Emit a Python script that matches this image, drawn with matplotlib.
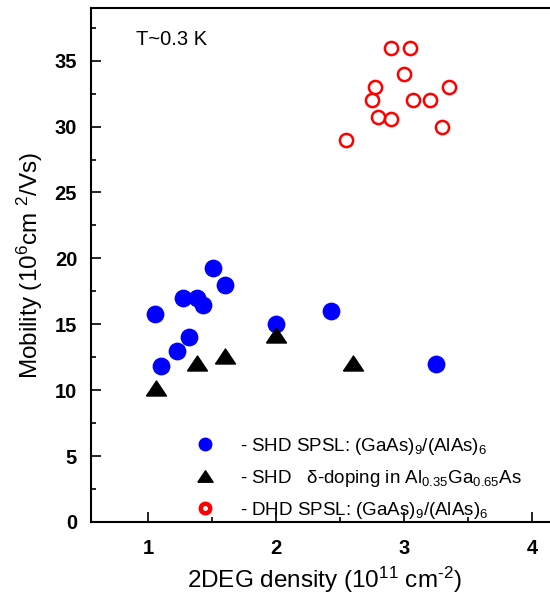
import numpy as np
import matplotlib
matplotlib.use('Agg')
import matplotlib.pyplot as plt
from matplotlib.lines import Line2D

plt.rcParams['font.family'] = ['Liberation Sans', 'DejaVu Sans']
plt.rcParams['mathtext.fontset'] = 'custom'
plt.rcParams['mathtext.rm'] = 'Liberation Sans'
plt.rcParams['mathtext.it'] = 'Liberation Sans:italic'
plt.rcParams['mathtext.bf'] = 'Liberation Sans:bold'

# SHD SPSL (GaAs)9/(AlAs)6
shd_x = [1.055, 1.10, 1.23, 1.27, 1.32, 1.38, 1.43, 1.51, 1.60, 2.0, 2.43, 3.25]
shd_y = [15.8, 11.8, 13.0, 17.0, 14.0, 17.0, 16.5, 19.3, 18.0, 15.0, 16.0, 12.0]

# SHD delta-doping in AlGaAs
delta_x = [1.06, 1.38, 1.60, 2.0, 2.60]
delta_y = [10.2, 12.1, 12.6, 14.2, 12.1]

# DHD SPSL (GaAs)9/(AlAs)6
dhd_x = [2.90, 3.05, 3.00, 2.77, 3.35, 2.75, 3.07, 3.20, 2.80, 2.90, 3.30, 2.55]
dhd_y = [36.0, 36.0, 34.0, 33.0, 33.0, 32.0, 32.0, 32.0, 30.7, 30.6, 30.0, 29.0]

x_ticks = [1, 2, 3, 4]
y_ticks = [0, 5, 10, 15, 20, 25, 30, 35]

# flatter triangle than the default '^'
tri = [(-1, -0.75), (1, -0.75), (0, 0.75), (-1, -0.75)]

fig = plt.figure(figsize=(5.5, 5.96), dpi=100)
ax = fig.add_axes([0.1655, 0.1242, 0.8484, 0.8624])

ax.plot(shd_x, shd_y, 'o', color='#0000ff', ms=11.8, ls='none', zorder=3)
ax.plot(delta_x, delta_y, marker=tri, color='black', ms=14.4, ls='none', zorder=3)
ax.plot(dhd_x, dhd_y, 'o', mfc='none', mec='#ff0000', ms=9.5, mew=1.8, ls='none', zorder=3)

ax.set_xlim(0.555, 4.2)
ax.set_ylim(0, 39)
ax.set_xticks(x_ticks)
ax.set_yticks(y_ticks)
ax.set_xticks([1.5, 2.5, 3.5], minor=True)
ax.set_yticks(np.arange(2.5, 39, 5), minor=True)
ax.tick_params(which='major', direction='in', length=7, width=1.2, labelsize=14.5)
ax.tick_params(which='minor', direction='in', length=3.5, width=1.2)
ax.tick_params(axis='x', pad=12)
ax.tick_params(axis='y', pad=10)
for lab in ax.get_xticklabels() + ax.get_yticklabels():
    lab.set_fontweight('bold')
for s in ax.spines.values():
    s.set_linewidth(1.5)

ax.set_xlabel('2DEG density (10$^{11}$ cm$^{\u20102}$)', fontsize=17.5, labelpad=5)
ax.set_ylabel('Mobility (10$^6$cm $^2$/Vs)', fontsize=17.5, labelpad=7)

ax.text(0.0965, 0.938, 'T~0.3 K', transform=ax.transAxes, fontsize=14.5, va='center')

handles = [
    Line2D([], [], marker='o', color='#0000ff', ls='none', ms=9),
    Line2D([], [], marker=tri, color='black', ls='none', ms=11),
    Line2D([], [], marker='o', mfc='white', mec='#ff0000', mew=3.2, ls='none', ms=6.8),
]
labels = [
    '- SHD SPSL: (GaAs)$_9$/(AlAs)$_6$',
    '- SHD   δ-doping in Al$_{0.35}$Ga$_{0.65}$As',
    '- DHD SPSL: (GaAs)$_9$/(AlAs)$_6$',
]
ax.legend(handles, labels, loc='lower left', bbox_to_anchor=(0.188, -0.012),
          frameon=False, fontsize=13.5, handletextpad=0.87, labelspacing=0.59,
          borderaxespad=0)

fig.savefig('out.png', dpi=100)
